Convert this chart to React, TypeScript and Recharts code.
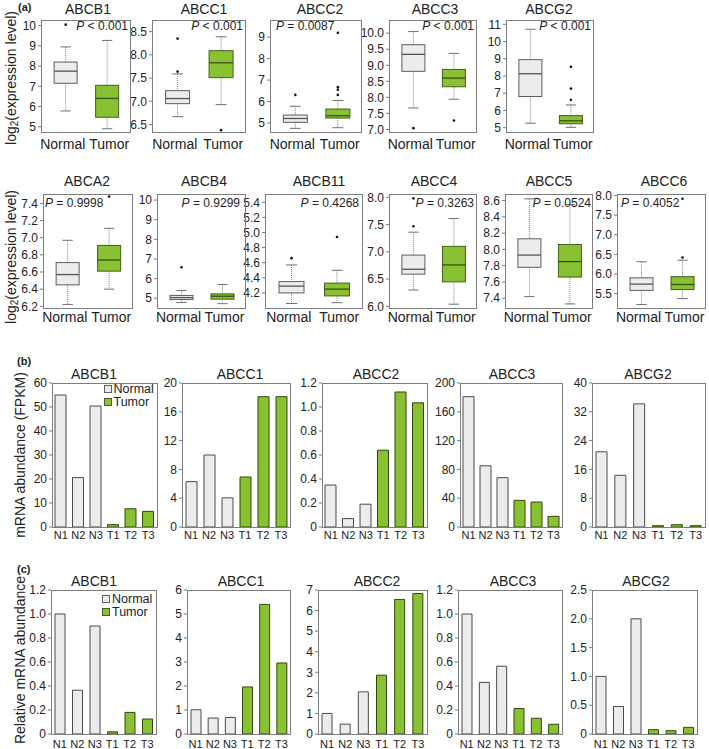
import React from 'react';
import { ComposedChart, BarChart, Bar, XAxis, YAxis, Cell, Legend } from 'recharts';

const GROUPS = ['Normal', 'Tumor'];
const SAMPLES = ['N1', 'N2', 'N3', 'T1', 'T2', 'T3'];

// box stats: [lower whisker, Q1, median, Q3, upper whisker]
const ABCB1_N = [5.78, 7.15, 7.75, 8.2, 8.95];
const ABCB1_T = [4.9, 5.47, 6.4, 7.05, 9.27];
const ABCB1_NO = [10.05];
const ABCB1_TO: number[] = [];

const ABCC1_N = [6.67, 6.95, 7.06, 7.23, 7.59];
const ABCC1_T = [6.93, 7.51, 7.83, 8.09, 8.39];
const ABCC1_NO = [7.64, 8.35];
const ABCC1_TO = [6.38];

const ABCC2_N = [4.75, 5.03, 5.21, 5.37, 5.78];
const ABCC2_T = [4.78, 5.23, 5.34, 5.65, 6.05];
const ABCC2_NO = [6.31];
const ABCC2_TO = [6.31, 6.55, 6.67, 9.2];

const ABCC3_N = [7.67, 8.81, 9.34, 9.64, 10.05];
const ABCC3_T = [7.94, 8.33, 8.6, 8.87, 9.37];
const ABCC3_NO = [7.04];
const ABCC3_TO = [7.28];

const ABCG2_N = [5.26, 6.81, 8.13, 8.95, 10.71];
const ABCG2_T = [5.02, 5.23, 5.4, 5.7, 6.32];
const ABCG2_NO: number[] = [];
const ABCG2_TO = [6.62, 7.27, 8.53];

const ABCA2_N = [6.22, 6.45, 6.57, 6.71, 6.97];
const ABCA2_T = [6.4, 6.61, 6.74, 6.91, 7.11];
const ABCA2_NO: number[] = [];
const ABCA2_TO = [7.48];

const ABCB4_N = [4.78, 4.93, 5.03, 5.14, 5.39];
const ABCB4_T = [4.72, 4.95, 5.1, 5.22, 5.7];
const ABCB4_NO = [6.58];
const ABCB4_TO: number[] = [];

const ABCB11_N = [4.06, 4.2, 4.29, 4.35, 4.57];
const ABCB11_T = [4.07, 4.16, 4.25, 4.33, 4.5];
const ABCB11_NO = [4.66];
const ABCB11_TO = [4.94];

const ABCC4_N = [6.3, 6.59, 6.68, 6.94, 7.36];
const ABCC4_T = [6.04, 6.45, 6.76, 7.1, 7.61];
const ABCC4_NO = [7.47, 7.98];
const ABCC4_TO: number[] = [];

const ABCC5_N = [7.42, 7.78, 7.93, 8.13, 8.62];
const ABCC5_T = [7.33, 7.66, 7.85, 8.06, 8.55];
const ABCC5_NO: number[] = [];
const ABCC5_TO: number[] = [];

const ABCC6_N = [5.22, 5.58, 5.74, 5.9, 6.31];
const ABCC6_T = [5.37, 5.6, 5.73, 5.93, 6.35];
const ABCC6_NO: number[] = [];
const ABCC6_TO = [6.42, 7.92];

// (b) FPKM values per sample N1..T3
const FPKM_ABCB1 = [55, 20.6, 50.4, 1.0, 7.6, 6.5];
const FPKM_ABCC1 = [6.3, 10.0, 4.05, 6.95, 18.1, 18.1];
const FPKM_ABCC2 = [0.35, 0.07, 0.19, 0.64, 1.125, 1.035];
const FPKM_ABCC3 = [181, 85, 68.5, 37, 34.7, 14.8];
const FPKM_ABCG2 = [20.9, 14.35, 34.2, 0.37, 0.65, 0.37];

// (c) relative mRNA abundance
const REL_ABCB1 = [1.0, 0.365, 0.9, 0.018, 0.18, 0.125];
const REL_ABCC1 = [1.01, 0.665, 0.69, 1.96, 5.4, 2.96];
const REL_ABCC2 = [1.0, 0.48, 2.05, 2.86, 6.54, 6.83];
const REL_ABCC3 = [1.0, 0.43, 0.565, 0.212, 0.131, 0.081];
const REL_ABCG2 = [1.0, 0.477, 2.0, 0.075, 0.058, 0.116];

const NORMAL_FILL = '#ececef';
const NORMAL_STROKE = '#5e5e5e';
const TUMOR_FILL = '#8ac132';
const TUMOR_STROKE = '#41601a';
const FRAME = '#7d7d7d';
const TXT = '#222';
const FONT = '"Liberation Sans", Arial, sans-serif';

function boxData(n: number[], t: number[], no: number[], to: number[]) {
  return [
    { group: GROUPS[0], range: [n[0], n[4]], stats: n, out: no },
    { group: GROUPS[1], range: [t[0], t[4]], stats: t, out: to },
  ];
}

function BoxShape(props: any) {
  const { x, y, width, height } = props;
  const p = props.payload || props;
  if (!p || !p.stats) return null;
  const [lo, q1, med, q3, hi] = p.stats;
  const top = Math.min(y, y + height);
  const bot = Math.max(y, y + height);
  const py = (v: number) => bot - ((v - lo) / (hi - lo)) * (bot - top);
  const isT = p.group === 'Tumor';
  const cx = x + width / 2;
  const cap = width * 0.45;
  const fill = isT ? TUMOR_FILL : NORMAL_FILL;
  const stroke = isT ? TUMOR_STROKE : NORMAL_STROKE;
  return (
    <g>
      <line x1={cx} x2={cx} y1={py(hi)} y2={py(q3)} stroke="#808080" strokeDasharray="1 1" />
      <line x1={cx} x2={cx} y1={py(q1)} y2={py(lo)} stroke="#808080" strokeDasharray="1 1" />
      <line x1={cx - cap / 2} x2={cx + cap / 2} y1={py(hi)} y2={py(hi)} stroke="#707070" />
      <line x1={cx - cap / 2} x2={cx + cap / 2} y1={py(lo)} y2={py(lo)} stroke="#707070" />
      <rect x={x} y={py(q3)} width={width} height={py(q1) - py(q3)} fill={fill} stroke={stroke} strokeWidth={1} />
      <line x1={x} x2={x + width} y1={py(med)} y2={py(med)} stroke={isT ? '#36500f' : '#555'} strokeWidth={1.3} />
      {p.out.map((v: number, i: number) => (
        <circle key={i} cx={cx} cy={py(v)} r={1.3} fill="#111" />
      ))}
    </g>
  );
}

const fmt = (dec: number) => (v: number) => (v === 0 ? '0' : v.toFixed(dec));

const boxTop = [
  { title: 'ABCB1', tx: 88, x1: 41, x2: 130, data: boxData(ABCB1_N, ABCB1_T, ABCB1_NO, ABCB1_TO), domain: [4.74, 10.28], ticks: [5, 6, 7, 8, 9, 10], dec: 0, p: ' < 0.001', anchor: 'end', px: 128 },
  { title: 'ABCC1', tx: 204, x1: 152, x2: 245, data: boxData(ABCC1_N, ABCC1_T, ABCC1_NO, ABCC1_TO), domain: [6.34, 8.75], ticks: [6.5, 7, 7.5, 8, 8.5], dec: 1, p: ' < 0.001', anchor: 'end', px: 243 },
  { title: 'ABCC2', tx: 320, x1: 270, x2: 361, data: boxData(ABCC2_N, ABCC2_T, ABCC2_NO, ABCC2_TO), domain: [4.58, 9.8], ticks: [5, 6, 7, 8, 9], dec: 0, p: ' = 0.0087', anchor: 'start', px: 276 },
  { title: 'ABCC3', tx: 435, x1: 389, x2: 476, data: boxData(ABCC3_N, ABCC3_T, ABCC3_NO, ABCC3_TO), domain: [6.92, 10.41], ticks: [7, 7.5, 8, 8.5, 9, 9.5, 10], dec: 1, p: ' < 0.001', anchor: 'end', px: 474 },
  { title: 'ABCG2', tx: 549, x1: 506, x2: 593, data: boxData(ABCG2_N, ABCG2_T, ABCG2_NO, ABCG2_TO), domain: [4.75, 11.25], ticks: [5, 6, 7, 8, 9, 10, 11], dec: 0, p: ' < 0.001', anchor: 'end', px: 591 },
];

const boxBottom = [
  { title: 'ABCA2', tx: 87, x1: 43, x2: 132, data: boxData(ABCA2_N, ABCA2_T, ABCA2_NO, ABCA2_TO), domain: [6.18, 7.51], ticks: [6.2, 6.4, 6.6, 6.8, 7.0, 7.2, 7.4], dec: 1, p: ' = 0.9998', anchor: 'start', px: 45 },
  { title: 'ABCB4', tx: 204, x1: 157, x2: 245, data: boxData(ABCB4_N, ABCB4_T, ABCB4_NO, ABCB4_TO), domain: [4.5, 10.31], ticks: [5, 6, 7, 8, 9, 10], dec: 0, p: ' = 0.9299', anchor: 'end', px: 240 },
  { title: 'ABCB11', tx: 319, x1: 265, x2: 362, data: boxData(ABCB11_N, ABCB11_T, ABCB11_NO, ABCB11_TO), domain: [4.0, 5.51], ticks: [4.2, 4.4, 4.6, 4.8, 5.0, 5.2, 5.4], dec: 1, p: ' = 0.4268', anchor: 'end', px: 359 },
  { title: 'ABCC4', tx: 434, x1: 389, x2: 476, data: boxData(ABCC4_N, ABCC4_T, ABCC4_NO, ABCC4_TO), domain: [5.97, 8.06], ticks: [6, 6.5, 7, 7.5, 8], dec: 1, p: ' = 0.3263', anchor: 'end', px: 474 },
  { title: 'ABCC5', tx: 549, x1: 505, x2: 592, data: boxData(ABCC5_N, ABCC5_T, ABCC5_NO, ABCC5_TO), domain: [7.28, 8.68], ticks: [7.4, 7.6, 7.8, 8.0, 8.2, 8.4, 8.6], dec: 1, p: ' = 0.0524', anchor: 'end', px: 591 },
  { title: 'ABCC6', tx: 664, x1: 617, x2: 705, data: boxData(ABCC6_N, ABCC6_T, ABCC6_NO, ABCC6_TO), domain: [5.13, 8.04], ticks: [5.5, 6, 6.5, 7, 7.5, 8], dec: 1, p: ' = 0.4052', anchor: 'start', px: 621 },
];

const barsB = [
  { title: 'ABCB1', tx: 94, x1: 52, x2: 157, values: FPKM_ABCB1, max: 60, ticks: [0, 10, 20, 30, 40, 50, 60], dec: 0, legend: { x: 103.5, y: 382.5 } },
  { title: 'ABCC1', tx: 240, x1: 182, x2: 290, values: FPKM_ABCC1, max: 20, ticks: [0, 4, 8, 12, 16, 20], dec: 0 },
  { title: 'ABCC2', tx: 376, x1: 322, x2: 427, values: FPKM_ABCC2, max: 1.2, ticks: [0, 0.2, 0.4, 0.6, 0.8, 1.0, 1.2], dec: 1 },
  { title: 'ABCC3', tx: 512, x1: 460, x2: 562, values: FPKM_ABCC3, max: 200, ticks: [0, 40, 80, 120, 160, 200], dec: 0 },
  { title: 'ABCG2', tx: 648, x1: 592, x2: 705, values: FPKM_ABCG2, max: 40, ticks: [0, 8, 16, 24, 32, 40], dec: 0 },
];

const barsC = [
  { title: 'ABCB1', tx: 94, x1: 51, x2: 156, values: REL_ABCB1, max: 1.2, ticks: [0, 0.2, 0.4, 0.6, 0.8, 1.0, 1.2], dec: 1, legend: { x: 102, y: 592.5 } },
  { title: 'ABCC1', tx: 241, x1: 187, x2: 290, values: REL_ABCC1, max: 6, ticks: [0, 1, 2, 3, 4, 5, 6], dec: 0 },
  { title: 'ABCC2', tx: 377, x1: 318, x2: 427, values: REL_ABCC2, max: 7, ticks: [0, 1, 2, 3, 4, 5, 6, 7], dec: 0 },
  { title: 'ABCC3', tx: 513, x1: 458, x2: 562, values: REL_ABCC3, max: 1.2, ticks: [0, 0.2, 0.4, 0.6, 0.8, 1.0, 1.2], dec: 1 },
  { title: 'ABCG2', tx: 646, x1: 592, x2: 697, values: REL_ABCG2, max: 2.5, ticks: [0, 0.5, 1.0, 1.5, 2.0, 2.5], dec: 1 },
];

const ML = 40;
const MR = 2;
const MT = 8;
const MB = 24;

function GroupTick(props: any) {
  const { x, y, payload, index } = props;
  const shift = index === 0 ? -3 : 2;
  return (
    <text x={x + shift} y={y} dy="0.71em" textAnchor="middle" fontSize={14} fill={TXT}>
      {payload.value}
    </text>
  );
}

function BoxPanel({ cfg, y1, y2, tm }: any) {
  const W = cfg.x2 - cfg.x1;
  const H = y2 - y1;
  return (
    <div style={{ position: 'absolute', left: cfg.x1 - ML, top: y1 - MT }}>
      <ComposedChart width={ML + W + MR} height={MT + H + MB} data={cfg.data} margin={{ top: MT, right: MR, bottom: 0, left: 0 }} barCategoryGap="22%">
        <XAxis dataKey="group" tickLine={false} axisLine={false} tickSize={0} tickMargin={tm} height={MB} interval={0} padding={{ left: 4, right: 2 }} tick={GroupTick} />
        <YAxis type="number" width={ML} domain={cfg.domain} allowDataOverflow ticks={cfg.ticks} interval={0} axisLine={false} tickSize={3} tickMargin={2} tickLine={{ stroke: FRAME }} tickFormatter={fmt(cfg.dec)} tick={{ fontSize: 12, fill: TXT }} />
        <Bar dataKey="range" shape={BoxShape} isAnimationActive={false} />
      </ComposedChart>
    </div>
  );
}

function LegendContent() {
  return (
    <div style={{ fontSize: 12.5, lineHeight: '13px', color: TXT, fontFamily: FONT }}>
      {GROUPS.map((g, i) => (
        <div key={g} style={{ display: 'flex', alignItems: 'center', height: 13, whiteSpace: 'nowrap', overflow: 'visible' }}>
          <span style={{ display: 'inline-block', width: 8, height: 8, boxSizing: 'border-box', border: `1px solid ${i === 0 ? NORMAL_STROKE : TUMOR_STROKE}`, background: i === 0 ? NORMAL_FILL : TUMOR_FILL, marginRight: 2 }} />
          <span style={{ lineHeight: '13px' }}>{g}</span>
        </div>
      ))}
    </div>
  );
}

function BarPanel({ cfg, y1, y2, tm, barSize }: any) {
  const W = cfg.x2 - cfg.x1;
  const H = y2 - y1;
  const data = SAMPLES.map((s, i) => ({ sample: s, value: cfg.values[i] }));
  const left = cfg.x1 - ML;
  const top = y1 - MT;
  return (
    <div style={{ position: 'absolute', left, top }}>
      <BarChart width={ML + W + MR} height={MT + H + MB} data={data} margin={{ top: MT, right: MR, bottom: 0, left: 0 }} barSize={barSize}>
        <XAxis dataKey="sample" tickLine={false} axisLine={false} tickSize={0} tickMargin={tm} height={MB} interval={0} tick={{ fontSize: 11, fill: TXT }} />
        <YAxis type="number" width={ML} domain={[0, cfg.max]} allowDataOverflow ticks={cfg.ticks} interval={0} axisLine={false} tickSize={3} tickMargin={2} tickLine={{ stroke: FRAME }} tickFormatter={fmt(cfg.dec)} tick={{ fontSize: 12, fill: TXT }} />
        <Bar dataKey="value" isAnimationActive={false} barSize={barSize}>
          {data.map((d) => (
            <Cell key={d.sample} fill={d.sample[0] === 'N' ? NORMAL_FILL : TUMOR_FILL} stroke={d.sample[0] === 'N' ? '#4a4a4a' : '#2f4a0c'} strokeWidth={1} />
          ))}
        </Bar>
        {cfg.legend ? (
          <Legend layout="horizontal" align="center" verticalAlign="middle" content={LegendContent} wrapperStyle={{ left: cfg.legend.x - left, top: cfg.legend.y - top, width: 'auto', height: 'auto' }} />
        ) : null}
      </BarChart>
    </div>
  );
}

function Frame({ x1, x2, y1, y2 }: any) {
  return <rect x={x1 + 0.5} y={y1 + 0.5} width={x2 - x1} height={y2 - y1} fill="none" stroke={FRAME} strokeWidth={1} />;
}

function PText({ cfg, y }: any) {
  return (
    <text x={cfg.px} y={y} textAnchor={cfg.anchor} fontSize={12} fill={TXT}>
      <tspan fontStyle="italic">P</tspan>
      {cfg.p}
    </text>
  );
}

function RotLabel({ x, y, children }: any) {
  return (
    <text x={x} y={y} transform={`rotate(-90, ${x}, ${y})`} textAnchor="middle" dominantBaseline="central" fontSize={14} fill={TXT}>
      {children}
    </text>
  );
}

export default function App() {
  const rowA1 = [20, 132];
  const rowA2 = [194, 308];
  const rowB = [383, 527];
  const rowC = [590, 734];
  return (
    <div style={{ position: 'absolute', left: 0, top: 0, width: 709, height: 749, overflow: 'hidden', background: '#fff', fontFamily: FONT }}>
      {boxTop.map((c) => <BoxPanel key={'t' + c.title} cfg={c} y1={rowA1[0]} y2={rowA1[1]} tm={7} />)}
      {boxBottom.map((c) => <BoxPanel key={'b' + c.title} cfg={c} y1={rowA2[0]} y2={rowA2[1]} tm={4} />)}
      {barsB.map((c) => <BarPanel key={'B' + c.title} cfg={c} y1={rowB[0]} y2={rowB[1]} tm={4} barSize={11} />)}
      {barsC.map((c) => <BarPanel key={'C' + c.title} cfg={c} y1={rowC[0]} y2={rowC[1]} tm={6} barSize={10} />)}
      <svg width={709} height={749} style={{ position: 'absolute', left: 0, top: 0, pointerEvents: 'none', fontFamily: FONT }}>
        {boxTop.map((c) => (
          <g key={'ft' + c.title}>
            <Frame x1={c.x1} x2={c.x2} y1={rowA1[0]} y2={rowA1[1]} />
            <text x={c.tx} y={14} textAnchor="middle" fontSize={14} fill={TXT}>{c.title}</text>
            <PText cfg={c} y={30} />
          </g>
        ))}
        {boxBottom.map((c) => (
          <g key={'fb' + c.title}>
            <Frame x1={c.x1} x2={c.x2} y1={rowA2[0]} y2={rowA2[1]} />
            <text x={c.tx} y={186} textAnchor="middle" fontSize={14} fill={TXT}>{c.title}</text>
            <PText cfg={c} y={207} />
          </g>
        ))}
        {barsB.map((c) => (
          <g key={'fB' + c.title}>
            <Frame x1={c.x1} x2={c.x2} y1={rowB[0]} y2={rowB[1]} />
            <text x={c.tx} y={379} textAnchor="middle" fontSize={14} fill={TXT}>{c.title}</text>
          </g>
        ))}
        {barsC.map((c) => (
          <g key={'fC' + c.title}>
            <Frame x1={c.x1} x2={c.x2} y1={rowC[0]} y2={rowC[1]} />
            <text x={c.tx} y={586} textAnchor="middle" fontSize={14} fill={TXT}>{c.title}</text>
          </g>
        ))}
        <text x={18} y={11} fontSize={11} fontWeight="bold" fill={TXT}>(a)</text>
        <text x={17} y={365} fontSize={11} fontWeight="bold" fill={TXT}>(b)</text>
        <text x={17} y={573} fontSize={11} fontWeight="bold" fill={TXT}>(c)</text>
        <RotLabel x={11} y={78}>
          <tspan>log</tspan>
          <tspan dy={3} fontSize={10}>2</tspan>
          <tspan dy={-3}>(expression level)</tspan>
        </RotLabel>
        <RotLabel x={11} y={257}>
          <tspan>log</tspan>
          <tspan dy={3} fontSize={10}>2</tspan>
          <tspan dy={-3}>(expression level)</tspan>
        </RotLabel>
        <RotLabel x={20} y={455}>mRNA abundance (FPKM)</RotLabel>
        <RotLabel x={20} y={660}>Relative mRNA abundance</RotLabel>
      </svg>
    </div>
  );
}
